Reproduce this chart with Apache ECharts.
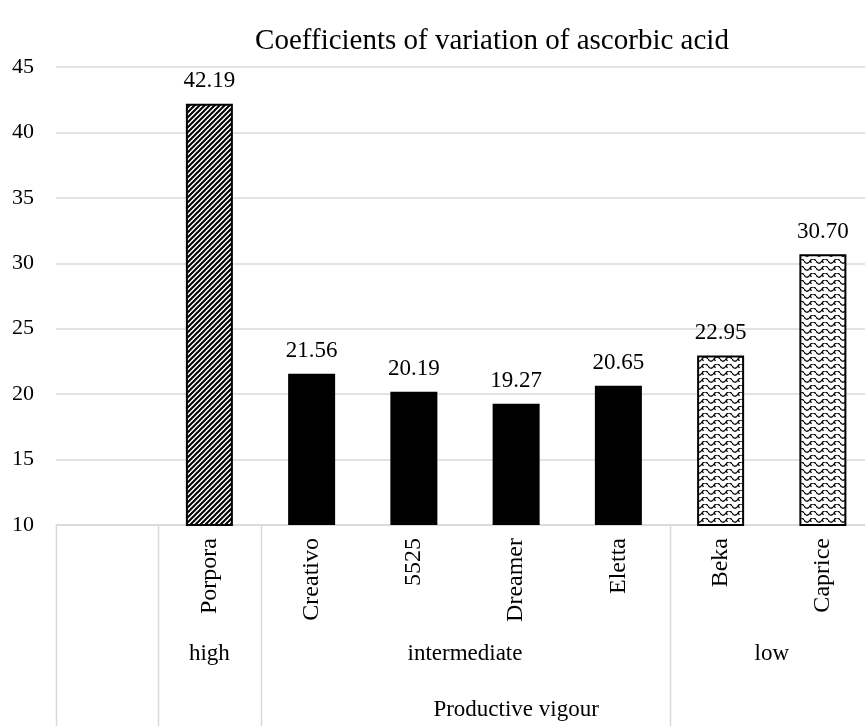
<!DOCTYPE html>
<html>
<head>
<meta charset="utf-8">
<script src="https://cdn.jsdelivr.net/npm/echarts@6/dist/echarts.min.js"></script>
<style>html,body{margin:0;padding:0;background:#fff;}#c{width:865px;height:726px;}</style>
</head>
<body>
<div id="c"></div>
<script>
const titleText = 'Coefficients of variation of ascorbic acid';
const categories = ['', 'Porpora', 'Creativo', '5525', 'Dreamer', 'Eletta', 'Beka', 'Caprice'];
const values = [null, 42.19, 21.56, 20.19, 19.27, 20.65, 22.95, 30.70];
const groups = ['', 'high', 'intermediate', 'intermediate', 'intermediate', 'intermediate', 'low', 'low'];
const fills = ['none', 'diag', 'solid', 'solid', 'solid', 'solid', 'wave', 'wave'];
const superGroupName = 'Productive vigour';
const superGroupFrom = 1;
const yMin = 10, yMax = 45, yStep = 5;

const FONT = '"Liberation Serif", "Times New Roman", serif';

function diagPattern() {
  const s = 5;
  const c = document.createElement('canvas');
  c.width = s; c.height = s;
  const g = c.getContext('2d');
  g.fillStyle = '#fff'; g.fillRect(0, 0, s, s);
  g.strokeStyle = '#000'; g.lineWidth = 2;
  g.beginPath();
  g.moveTo(-1, s + 1); g.lineTo(s + 1, -1);
  g.moveTo(-1, 1); g.lineTo(1, -1);
  g.moveTo(s - 1, s + 1); g.lineTo(s + 1, s - 1);
  g.stroke();
  return { image: c, repeat: 'repeat' };
}
function wavePattern() {
  const w = 12, h = 7;
  const c = document.createElement('canvas');
  c.width = w; c.height = h;
  const g = c.getContext('2d');
  g.fillStyle = '#fff'; g.fillRect(0, 0, w, h);
  g.strokeStyle = '#000'; g.lineWidth = 1.3;
  g.beginPath();
  g.moveTo(0, 2);
  g.quadraticCurveTo(3, 6.5, 6, 2);
  g.quadraticCurveTo(9, -2.5, 12, 2);
  g.moveTo(0, 2); g.lineTo(1.5, 3.8);
  g.moveTo(6, 2); g.lineTo(7.5, 3.8);
  g.stroke();
  return { image: c, repeat: 'repeat' };
}
const patDiag = diagPattern();
const patWave = wavePattern();

const data = values.map((v, i) => {
  if (v == null) return { value: null };
  let st;
  if (fills[i] === 'diag') st = { color: patDiag, borderColor: '#000', borderWidth: 2 };
  else if (fills[i] === 'wave') st = { color: patWave, borderColor: '#000', borderWidth: 2 };
  else st = { color: '#000' };
  return { value: v, itemStyle: st };
});

const chart = echarts.init(document.getElementById('c'), null, { renderer: 'canvas' });
const option = {
  animation: false,
  backgroundColor: '#fff',
  title: {
    text: titleText, left: 487, top: 22, textAlign: 'center',
    textStyle: { fontFamily: FONT, fontSize: 29, fontWeight: 'normal', color: '#000' }
  },
  grid: { left: 56, width: 818, top: 67, height: 458, containLabel: false, outerBoundsMode: 'none' },
  xAxis: {
    type: 'category', data: categories,
    axisLine: { show: true, lineStyle: { color: '#d9d9d9', width: 1.5 } },
    axisTick: { show: false },
    axisLabel: { rotate: 90, margin: 13, fontFamily: FONT, fontSize: 24, color: '#000', interval: 0 }
  },
  yAxis: {
    type: 'value', min: yMin, max: yMax, interval: yStep,
    axisLine: { show: false }, axisTick: { show: false },
    axisLabel: { margin: 22, fontFamily: FONT, fontSize: 22, color: '#000' },
    splitLine: { lineStyle: { color: '#d9d9d9', width: 1.5 } }
  },
  series: [{
    type: 'bar', data: data, barWidth: 47,
    label: {
      show: true, position: 'top', distance: 11,
      fontFamily: FONT, fontSize: 23, color: '#000',
      formatter: p => (p.value == null ? '' : Number(p.value).toFixed(2))
    }
  }]
};
chart.setOption(option);

// Multi-level axis decorations, positioned through the axis scale
const axisY = chart.convertToPixel({ gridIndex: 0 }, [0, yMin])[1];
const cx = i => chart.convertToPixel({ xAxisIndex: 0 }, i);
const bw = cx(1) - cx(0);
const edgeL = i => cx(i) - bw / 2;
const bottomY = 726;
const elems = [];
const sepIdx = new Set([0, superGroupFrom]);
for (let i = 1; i < groups.length; i++) if (groups[i] !== groups[i - 1]) sepIdx.add(i);
sepIdx.add(groups.length);
sepIdx.forEach(i => {
  const x = Math.round(edgeL(i)) + 0.5;
  elems.push({ type: 'line', shape: { x1: x, y1: axisY, x2: x, y2: bottomY },
    style: { stroke: '#d9d9d9', lineWidth: 1.5 }, silent: true });
});
const xEnd = edgeL(groups.length);
let start = 1;
for (let i = 2; i <= groups.length; i++) {
  if (i === groups.length || groups[i] !== groups[start]) {
    const mid = (edgeL(start) + edgeL(i)) / 2;
    elems.push({ type: 'text', x: mid, y: axisY + 129, silent: true,
      style: { text: groups[start], font: '23px ' + FONT, fill: '#000', align: 'center', verticalAlign: 'middle' } });
    start = i;
  }
}
const superMid = (edgeL(superGroupFrom) + xEnd) / 2;
elems.push({ type: 'text', x: superMid, y: axisY + 185, silent: true,
  style: { text: superGroupName, font: '23px ' + FONT, fill: '#000', align: 'center', verticalAlign: 'middle' } });
chart.setOption({ graphic: { elements: elems } });
</script>
</body>
</html>
